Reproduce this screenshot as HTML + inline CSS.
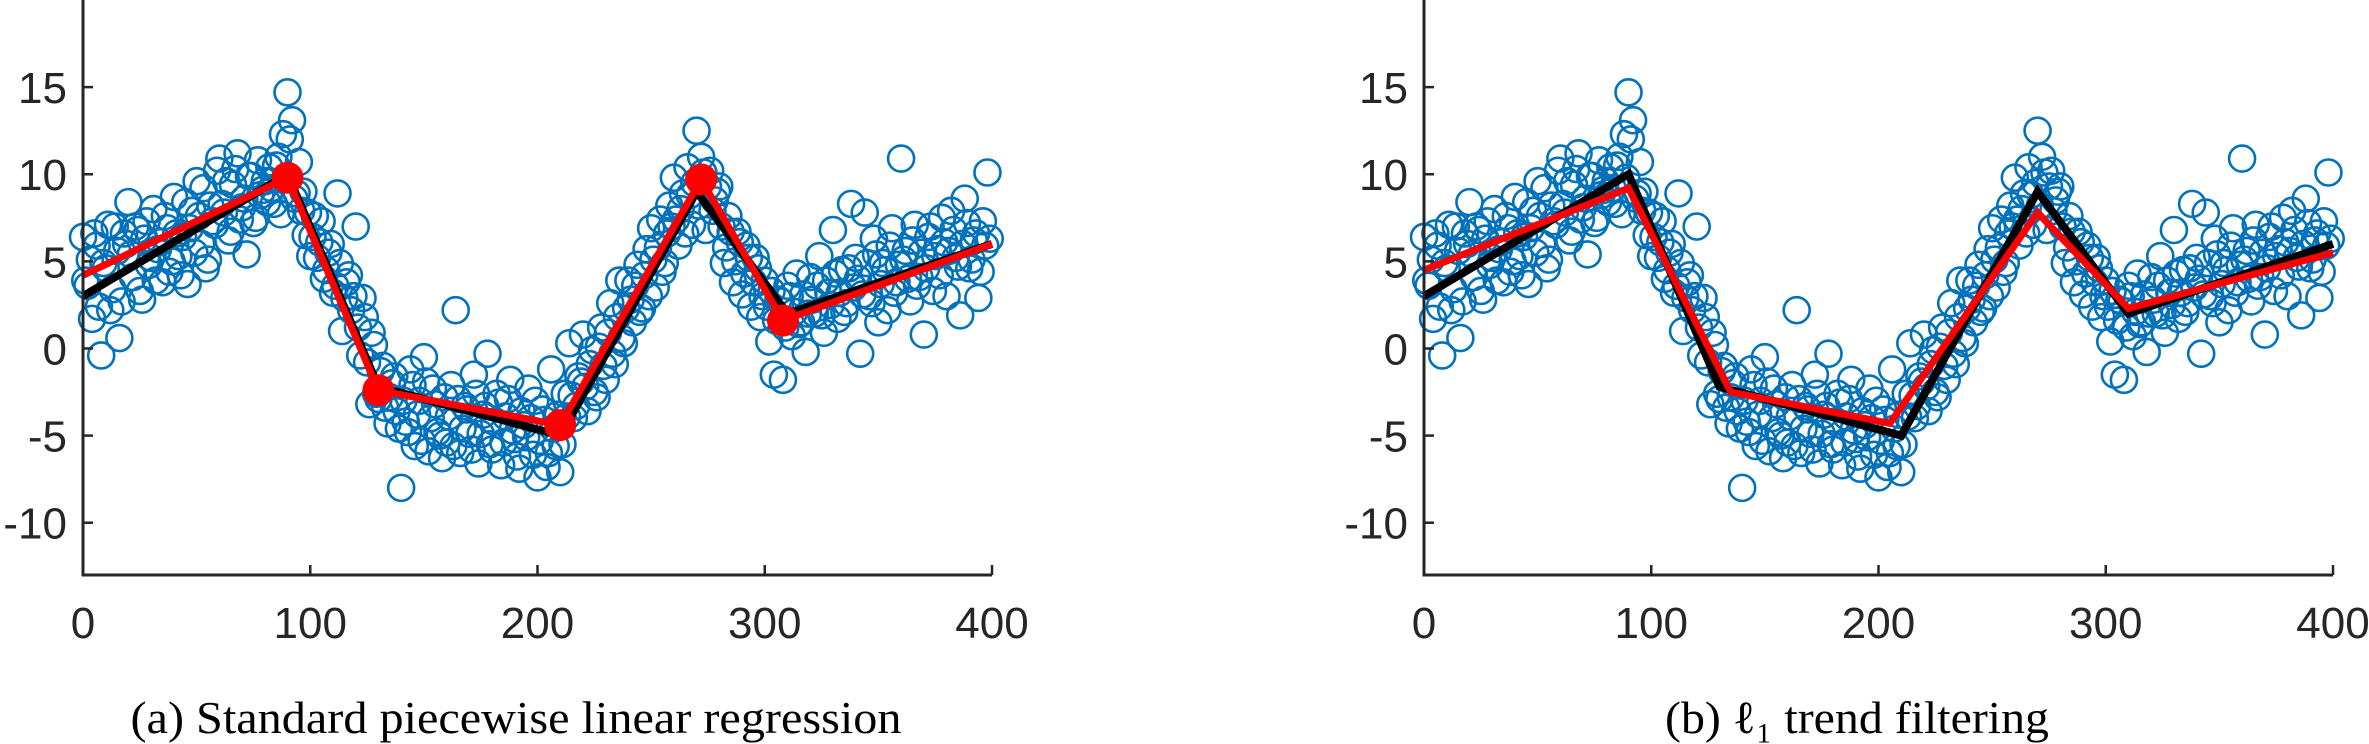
<!DOCTYPE html>
<html><head><meta charset="utf-8"><style>
html,body{margin:0;padding:0;background:#fff;}
svg{display:block;}
</style></head><body>
<svg id="fig" width="2369" height="744" viewBox="0 0 2369 744" xmlns="http://www.w3.org/2000/svg"></svg>
<script>
// ---- data ----
const xStep = 2;
const yData = [
6.4,3.6,1.7,5.9,-0.4,4.6,2.2,7.0,0.6,6.6,
8.4,4.1,6.8,2.8,7.3,5.2,3.9,6.1,7.6,4.4,
8.7,5.3,6.4,3.7,7.9,9.6,6.0,4.6,8.2,7.1,
10.9,7.8,6.2,9.4,11.2,8.1,5.4,9.9,7.5,8.8,
9.6,10.4,8.3,11.0,12.3,14.7,13.1,8.9,7.9,6.5,
5.3,7.6,6.1,4.0,5.5,3.2,8.9,1.0,3.8,2.2,
7.0,-0.4,1.8,-3.2,0.2,-2.9,-1.0,-4.3,-2.0,-3.6,
-8.0,-4.2,-1.2,-5.6,-3.0,-0.5,-5.9,-2.3,-4.8,-6.3,
-5.4,-2.1,2.2,-6.0,-3.3,-4.9,-1.5,-6.6,-3.8,-0.3,
-5.8,-2.6,-6.7,-3.9,-1.8,-5.2,-6.9,-4.4,-2.3,-6.1,
-7.4,-3.5,-6.8,-1.2,-5.6,-7.1,-2.6,0.3,-4.0,-1.6,
0.8,-3.6,-0.1,-2.8,1.2,-1.8,2.6,-0.9,3.9,0.3,
3.9,1.5,4.8,2.3,5.7,6.9,3.5,7.4,4.9,8.2,
9.8,5.9,8.9,10.4,7.1,12.5,11.0,6.8,10.2,8.5,
9.3,4.9,7.6,3.8,6.7,3.1,5.9,2.4,5.2,1.8,
3.9,0.4,-1.5,2.8,-1.8,3.6,0.7,4.3,1.5,-0.2,
4.1,2.0,5.3,0.9,3.2,6.8,1.7,4.5,2.6,8.3,
5.2,-0.3,7.8,3.0,6.3,1.5,4.9,2.2,6.9,3.8,
10.9,5.6,2.7,7.1,4.1,0.8,6.4,3.3,5.7,7.5,
3.0,7.9,5.2,1.9,8.6,4.6,6.2,2.9,7.3,10.1];
// odd-x samples (x = 1, 3, 5, ...)
const yData2 = [
3.9,5.1,6.6,2.4,4.9,7.1,3.4,5.6,2.7,6.0,
5.4,7.0,3.3,6.3,4.8,8.0,5.7,3.8,6.9,5.0,
6.6,4.2,8.4,6.9,5.5,7.6,9.2,5.1,7.3,10.2,
8.3,9.6,6.7,10.3,7.4,8.6,9.9,7.2,10.8,9.1,
8.4,9.2,10.5,7.7,9.8,12.0,8.6,10.7,9.0,7.8,
6.4,5.2,7.3,4.5,6.0,3.6,4.9,2.9,4.2,3.0,
1.2,2.9,-0.8,0.9,-2.6,-1.3,-3.4,-2.8,-1.6,-4.6,
-3.0,-4.8,-2.1,-3.8,-5.3,-1.9,-4.0,-3.2,-5.0,-2.8,
-3.9,-5.6,-2.9,-4.6,-3.5,-5.8,-2.6,-4.9,-3.3,-5.5,
-4.2,-3.1,-5.4,-2.9,-4.7,-6.2,-3.6,-5.1,-4.0,-3.0,
-5.3,-4.1,-6.0,-4.6,-3.8,-5.5,-3.9,-2.7,-3.3,-1.9,
-2.2,-0.9,-2.5,0.1,-1.0,0.9,-0.3,1.8,0.6,2.3,
2.8,3.6,2.1,4.2,3.0,5.1,5.8,4.4,6.6,7.0,
7.4,8.0,6.6,8.8,9.5,8.2,10.1,9.3,7.9,9.0,
7.0,5.8,6.7,5.0,6.1,4.3,5.2,3.8,4.6,3.0,
2.4,3.3,1.6,2.7,1.2,3.0,2.1,1.4,3.1,2.0,
2.8,3.6,1.9,3.9,2.5,4.3,3.2,2.1,4.6,3.5,
4.0,3.1,4.9,2.6,5.4,3.7,4.5,5.9,3.2,4.8,
5.1,4.0,6.2,3.6,5.5,4.6,7.0,5.3,4.2,6.1,
5.6,6.8,4.7,6.0,7.2,5.1,6.6,4.4,5.9,6.3];
const trueX = [0,90,130,210,270,310,400];
const trueY = [3,10,-2.2,-5,9,2,6];
const fitAX = [0,90,130,210,272,308,400];
const fitAY = [4.2,9.8,-2.4,-4.4,9.7,1.6,6];
const knotsAX = [90,130,210,272,308];
const knotsAY = [9.8,-2.4,-4.4,9.7,1.6];
const fitBX = [0,90,135,205,270,310,400];
const fitBY = [4.5,9.2,-2.5,-4.3,7.8,2.3,5.5];
const xTicks = [0,100,200,300,400];
const yTicks = [-10,-5,0,5,10,15];
const captions = ["(a) Standard piecewise linear regression","(b) \u2113\u2081 trend filtering"];

const NS="http://www.w3.org/2000/svg";
const svg=document.getElementById('fig');
function mk(tag,attrs,parent){const e=document.createElementNS(NS,tag);for(const k in attrs)e.setAttribute(k,attrs[k]);(parent||svg).appendChild(e);return e;}

const yMin=-13,yMax=20,plotTop=0,plotBottom=575,W=909;
function makePanel(x0,idx){
  const sx=v=>x0+v/400*W;
  const sy=v=>plotBottom-(v-yMin)/(yMax-yMin)*(plotBottom-plotTop);
  const g=mk('g',{});
  
  
  const sc=mk('g',{fill:'none',stroke:'#0072BD','stroke-width':2.6},g);
  
  
  yData.forEach((v,i)=>{
    const c=mk('circle',{cx:sx(i*xStep),cy:sy(v),r:13},sc);
    
    
  });
  yData2.forEach((v,i)=>{
    const c=mk('circle',{cx:sx(i*xStep+1),cy:sy(v),r:13},sc);
    
    
  });
  const tl=mk('polyline',{points:trueX.map((x,i)=>sx(x)+','+sy(trueY[i])).join(' '),fill:'none',stroke:'#000','stroke-width':8},g);
  
  
  const fx=idx===0?fitAX:fitBX, fy=idx===0?fitAY:fitBY;
  const fl=mk('polyline',{points:fx.map((x,i)=>sx(x)+','+sy(fy[i])).join(' '),fill:'none',stroke:'#ff0000','stroke-width':7},g);
  
  
  if(idx===0){
    knotsAX.forEach((x,i)=>{
      const m=mk('circle',{cx:sx(x),cy:sy(knotsAY[i]),r:16,fill:'#ff0000'},g);
      
      
    });
  }
  const ax=mk('path',{d:`M${x0},${plotTop} L${x0},${plotBottom} L${x0+W},${plotBottom}`,fill:'none',stroke:'#262626','stroke-width':3},g);
  
  
  xTicks.forEach(t=>{
    const tk=mk('line',{x1:sx(t),x2:sx(t),y1:plotBottom,y2:plotBottom-10,stroke:'#262626','stroke-width':2.5},g);
    
    
    const tx=mk('text',{x:sx(t),y:638,'text-anchor':'middle','font-family':'Liberation Sans, sans-serif','font-size':44,fill:'#262626'},g);
    tx.textContent=t;
    
    
  });
  yTicks.forEach(t=>{
    const tk=mk('line',{x1:x0,x2:x0+10,y1:sy(t),y2:sy(t),stroke:'#262626','stroke-width':2.5},g);
    
    
    const tx=mk('text',{x:x0-16,y:sy(t)+16,'text-anchor':'end','font-family':'Liberation Sans, sans-serif','font-size':44,fill:'#262626'},g);
    tx.textContent=t;
    
    
  });
  const cap=mk('text',{x:idx===0?516:1857,y:733,'text-anchor':'middle','font-family':'Liberation Serif, serif','font-size':46,fill:'#000'},g);
  cap.textContent=captions[idx];
  cap.setAttribute('textLength', idx===0?771:384);
  cap.setAttribute('lengthAdjust','spacingAndGlyphs');
  
  
}
makePanel(83,0);
makePanel(1424,1);
</script>
</body></html>
